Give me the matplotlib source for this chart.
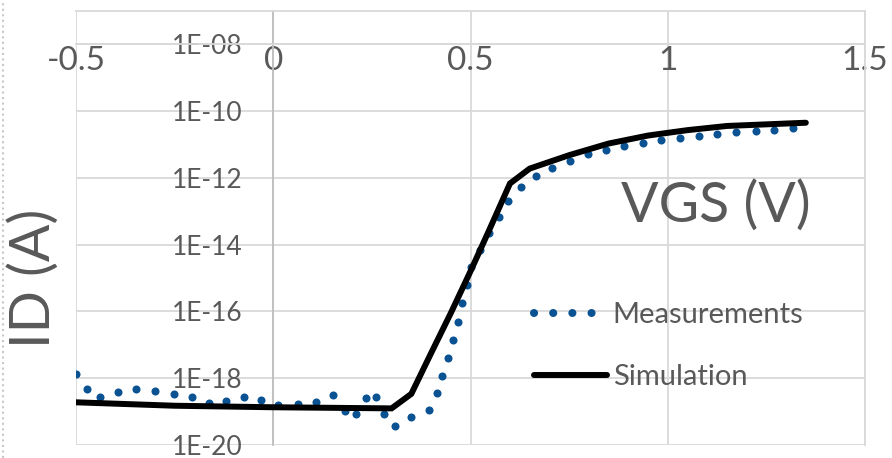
import numpy as np
import matplotlib
matplotlib.use("Agg")
import matplotlib.pyplot as plt
from matplotlib.lines import Line2D
from matplotlib.ticker import FuncFormatter, NullLocator

# measured points (VGS in V, ID in A)
meas_vgs = [
    -0.500, -0.471, -0.439, -0.393, -0.347, -0.299, -0.252, -0.205, -0.162,
    -0.119, -0.075, -0.030, 0.013, 0.063, 0.109, 0.152, 0.183, 0.210, 0.236,
    0.261, 0.282, 0.308, 0.350, 0.394, 0.414, 0.428, 0.444, 0.456, 0.468,
    0.479, 0.492, 0.502, 0.525, 0.547, 0.571, 0.595, 0.629, 0.665, 0.707,
    0.752, 0.798, 0.843, 0.889, 0.936, 0.983, 1.031, 1.079, 1.126, 1.174,
    1.223, 1.270, 1.317,
]
meas_id = [
    1.35e-18, 4.8e-19, 2.8e-19, 4.0e-19, 4.9e-19, 4.2e-19, 3.3e-19, 2.8e-19,
    1.8e-19, 2.1e-19, 2.7e-19, 2.2e-19, 1.6e-19, 1.7e-19, 2.0e-19, 3.1e-19,
    1.05e-19, 8.5e-20, 2.5e-19, 2.7e-19, 8.3e-20, 3.6e-20, 6.8e-20, 1.15e-19,
    3.5e-19, 1.17e-18, 4.1e-18, 1.4e-17, 5.0e-17, 1.8e-16, 6.2e-16, 2.2e-15,
    7.1e-15, 2.2e-14, 6.6e-14, 2.0e-13, 5.2e-13, 1.17e-12, 2.0e-12, 3.3e-12,
    5.1e-12, 6.9e-12, 9.3e-12, 1.15e-11, 1.35e-11, 1.6e-11, 1.86e-11, 2.0e-11,
    2.3e-11, 2.6e-11, 2.8e-11, 3.2e-11,
]

# simulated curve
sim_vgs = [-0.5, -0.25, 0.0, 0.3, 0.35, 0.4, 0.45, 0.5, 0.55, 0.6, 0.65,
           0.75, 0.85, 0.95, 1.05, 1.15, 1.35]
sim_id = [1.9e-19, 1.5e-19, 1.35e-19, 1.25e-19, 3.4e-19, 5.6e-18, 8.9e-17,
          1.6e-15, 3.2e-14, 6.8e-13, 1.9e-12, 4.8e-12, 1.07e-11, 1.86e-11,
          2.7e-11, 3.6e-11, 4.5e-11]

x_ticks = [-0.5, 0, 0.5, 1, 1.5]
y_ticks = [1e-20, 1e-18, 1e-16, 1e-14, 1e-12, 1e-10, 1e-08]

text_grey = "#595959"
grid_grey = "#d9d9d9"
dot_blue = "#0a5291"
font = ["Lato", "DejaVu Sans"]

plt.rcParams["font.family"] = font

fig = plt.figure(figsize=(8.92, 4.58), dpi=100, facecolor="white")
ax = fig.add_axes((76 / 892, 1 - 445 / 458, (865 - 76) / 892, (445 - 11) / 458))

ax.plot(meas_vgs, meas_id, linestyle="none", marker="o", markersize=5.8,
        markeredgewidth=0, color=dot_blue, zorder=3)
ax.plot(sim_vgs, sim_id, color="black", linewidth=4.3,
        solid_joinstyle="miter", solid_capstyle="round", zorder=4)

ax.set_yscale("log")
ax.set_xlim(-0.5, 1.5)
ax.set_ylim(1e-20, 1e-07)
ax.set_xticks(x_ticks)
ax.set_yticks(y_ticks)
ax.yaxis.set_minor_locator(NullLocator())
ax.xaxis.set_major_formatter(FuncFormatter(lambda v, _: f"{v:g}"))
ax.yaxis.set_major_formatter(
    FuncFormatter(lambda v, _: f"1E-{-int(round(np.log10(v))):02d}"))

ax.grid(True, color=grid_grey, linewidth=1.3, zorder=0)
ax.set_axisbelow(True)

ax.spines["left"].set_position(("data", 0))
ax.spines["left"].set_color("#bfbfbf")
ax.spines["left"].set_linewidth(1.3)
ax.spines["bottom"].set_position(("data", 1e-08))
for side in ("bottom", "top", "right"):
    ax.spines[side].set_color(grid_grey)
    ax.spines[side].set_linewidth(1.3)

ax.tick_params(axis="x", length=0, pad=1, labelsize=24, labelcolor=text_grey)
ax.tick_params(axis="y", length=0, pad=22, labelsize=19, labelcolor=text_grey)
for lab in ax.get_xticklabels() + ax.get_yticklabels():
    lab.set_family(font)

# axis titles inside the chart, Excel style
fig.text(34 / 892, 1 - 278 / 458, "ID (A)", rotation=90, fontsize=40,
         color=text_grey, ha="center", va="center")
fig.text(716 / 892, 1 - 206 / 458, "VGS (V)", fontsize=40,
         color=text_grey, ha="center", va="center")

handles = [
    Line2D([], [], color=dot_blue, linewidth=5.8, linestyle=(0, (0.01, 2.37)),
           dash_capstyle="round"),
    Line2D([], [], color="black", linewidth=4.3, solid_capstyle="round"),
]
leg = ax.legend(handles, ["Measurements", "Simulation"], loc="upper left",
                bbox_to_anchor=(534 / 892, 1 - 302 / 458),
                bbox_transform=fig.transFigure, frameon=False, fontsize=21,
                handlelength=2.5, handletextpad=0.2, labelspacing=1.25,
                borderpad=0, borderaxespad=0)
for t in leg.get_texts():
    t.set_color(text_grey)

# thin chart-area border on the far left
fig.add_artist(Line2D([3 / 892, 3 / 892], [0, 1], transform=fig.transFigure,
                      color="#c8c8c8", linewidth=1.5, linestyle=":"))

fig.savefig("out.png", dpi=100, facecolor="white")
